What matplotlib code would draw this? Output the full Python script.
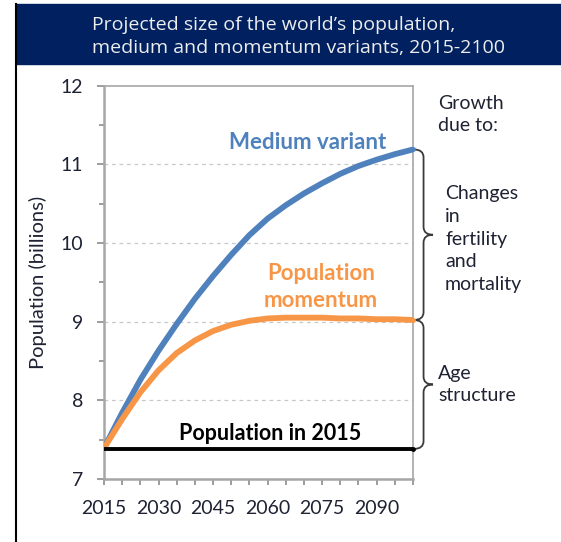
import matplotlib
matplotlib.use('Agg')
import matplotlib.pyplot as plt
from matplotlib.path import Path
from matplotlib.patches import PathPatch, Rectangle
from matplotlib.lines import Line2D

# Données (milliards d'habitants)
annees = [2015, 2020, 2025, 2030, 2035, 2040, 2045, 2050, 2055, 2060,
          2065, 2070, 2075, 2080, 2085, 2090, 2095, 2100]
variante_moyenne = [7.39, 7.84, 8.26, 8.63, 8.97, 9.29, 9.58, 9.85, 10.10, 10.31,
                    10.48, 10.63, 10.76, 10.88, 10.98, 11.06, 11.13, 11.19]
momentum = [7.39, 7.76, 8.10, 8.38, 8.60, 8.76, 8.88, 8.96, 9.01, 9.04,
            9.05, 9.05, 9.05, 9.04, 9.04, 9.03, 9.03, 9.02]
pop_2015 = 7.38
xtick_labels = [2015, 2030, 2045, 2060, 2075, 2090]
ytick_labels = [7, 8, 9, 10, 11, 12]

bleu = '#4F81BD'
orange = '#F79646'
texte = '#1F2233'
W, H = 561, 542

plt.rcParams['font.family'] = ['Lato', 'DejaVu Sans']

fig = plt.figure(figsize=(W / 100, H / 100), dpi=100)

# Bandeau du titre
fig.patches.append(Rectangle((16 / W, 1 - 64 / H), 1 - 16 / W, 60 / H,
                             transform=fig.transFigure, color='#002060', zorder=0))
fig.lines.append(Line2D([16 / W, 16 / W], [0, 1 - 4 / H], transform=fig.transFigure,
                        color='black', lw=1.5))
fig.text(92 / W, 1 - 25 / H, "Projected size of the world\u2019s population,",
         fontsize=14, color='#EDEDED', va='center', family=['Open Sans', 'DejaVu Sans'])
fig.text(92 / W, 1 - 48 / H, "medium and momentum variants, 2015-2100",
         fontsize=14, color='#EDEDED', va='center', family=['Open Sans', 'DejaVu Sans'])

ax = fig.add_axes([104 / W, 1 - 478.8 / H, (413 - 104) / W, (478.8 - 85.8) / H])

ax.plot(annees, variante_moyenne, color=bleu, lw=4.2, solid_capstyle='butt',
        solid_joinstyle='round', zorder=3)
ax.plot(annees, momentum, color=orange, lw=4.2, solid_capstyle='butt',
        solid_joinstyle='round', zorder=3)
ax.plot([annees[0], annees[-1]], [pop_2015, pop_2015], color='black', lw=2.8, zorder=3)

ax.set_xlim(2015, 2100)
ax.set_ylim(7, 12)
ax.set_xticks(xtick_labels)
ax.set_xticks(range(2015, 2101, 5), minor=True)
ax.set_yticks(ytick_labels)
ax.set_yticks([7.5, 8.5, 9.5, 10.5, 11.5], minor=True)
ax.tick_params(axis='both', which='both', direction='out', color='#8C8C8C',
               labelcolor=texte, labelsize=14)
ax.tick_params(axis='y', which='major', length=5, width=1.2, pad=10)
ax.tick_params(axis='y', which='minor', length=3.5, width=1.2)
ax.tick_params(axis='x', which='both', length=4, width=1.2, pad=11)
for s in ax.spines.values():
    s.set_color('#A6A6A6')
    s.set_linewidth(1.2)
ax.spines['left'].set_linewidth(1.8)
ax.spines['bottom'].set_linewidth(1.8)

for y in [8, 9, 10, 11]:
    ax.axhline(y, color='#C8C8C8', lw=0.9, ls=(0, (3, 3)), zorder=1)

ax.set_ylabel('Population (billions)', fontsize=14.5, color=texte)
ax.yaxis.set_label_coords(-(104 - 47) / (413 - 104), 0.5)

ax.text(2071, 11.28, 'Medium variant', color=bleu, fontsize=16, fontweight='bold',
        ha='center', va='center')
ax.text(2074.7, 9.44, 'Population\nmomentum', color=orange, fontsize=16,
        fontweight='bold', ha='center', va='center', linespacing=1.4)
ax.text(2060.7, 7.57, 'Population in 2015', color='black', fontsize=15.5,
        fontweight='bold', ha='center', va='center')


def accolade(y0, y1):
    x0, xv, xt = 2100.2, 2102.9, 2105.5
    ym = (y0 + y1) / 2
    r = 0.1
    verts = [(x0, y1), (xv, y1), (xv, y1 - r), (xv, ym + r), (xv, ym), (xt, ym),
             (xv, ym), (xv, ym - r), (xv, y0 + r), (xv, y0), (x0, y0)]
    codes = [Path.MOVETO, Path.CURVE3, Path.CURVE3, Path.LINETO, Path.CURVE3,
             Path.CURVE3, Path.CURVE3, Path.CURVE3, Path.LINETO, Path.CURVE3, Path.CURVE3]
    ax.add_patch(PathPatch(Path(verts, codes), fill=False, color='#3A3A3A', lw=1.3,
                           clip_on=False))


accolade(momentum[-1], variante_moyenne[-1])
accolade(pop_2015, momentum[-1])
for serie, c in [(variante_moyenne, bleu), (momentum, orange)]:
    ax.plot(annees[-1], serie[-1], ls='none', marker='o', ms=3.5, mec='none', mfc=c,
            clip_on=False, zorder=4)
ax.plot(annees[-1], pop_2015, ls='none', marker='o', ms=3.5, mec='none', mfc='black',
        clip_on=False, zorder=4)

fig.text(438 / W, 1 - 114.5 / H, 'Growth\ndue to:', fontsize=14, color=texte,
         va='center', linespacing=1.4)
fig.text(445 / W, 1 - 239 / H, 'Changes\nin\nfertility\nand\nmortality', fontsize=14,
         color=texte, va='center', linespacing=1.4)
fig.text(438 / W, 1 - 384.5 / H, 'Age\nstructure', fontsize=14, color=texte,
         va='center', linespacing=1.4)

plt.savefig('out.png', dpi=100)
